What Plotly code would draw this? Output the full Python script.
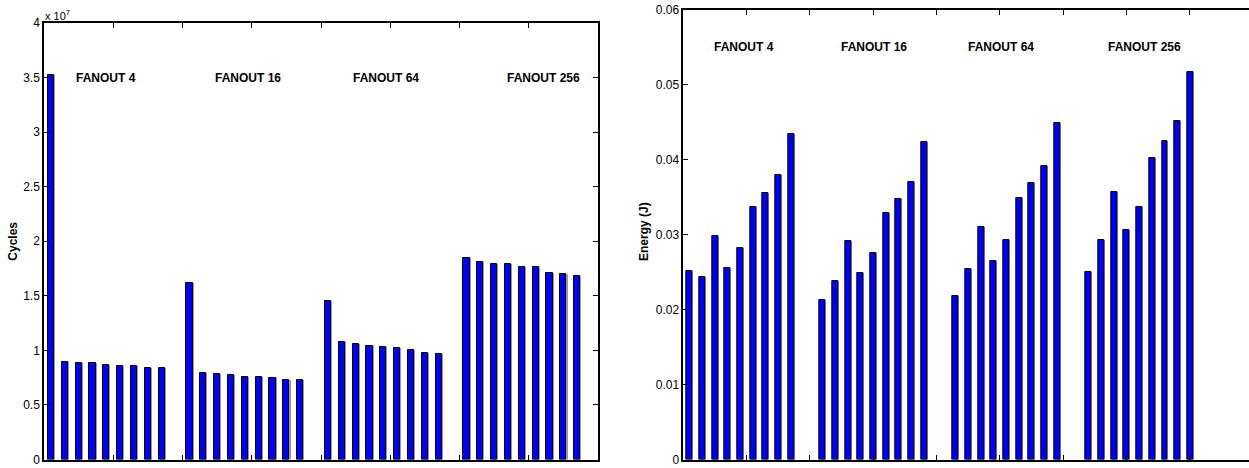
import plotly.graph_objects as go

# ---------------- data ----------------
fanout_labels = ["FANOUT 4", "FANOUT 16", "FANOUT 64", "FANOUT 256"]

# Cycles, in units of 1e7 (9 bars per fanout group)
cycles_e7 = [
    [3.52, 0.893, 0.881, 0.884, 0.865, 0.859, 0.858, 0.841, 0.838],
    [1.621, 0.792, 0.783, 0.777, 0.758, 0.755, 0.746, 0.731, 0.725],
    [1.453, 1.073, 1.061, 1.043, 1.031, 1.021, 1.000, 0.979, 0.969],
    [1.844, 1.813, 1.792, 1.792, 1.768, 1.768, 1.713, 1.700, 1.682],
]

# Energy in J (9 bars per fanout group)
energy_j = [
    [0.02516, 0.0244, 0.0299, 0.02556, 0.02822, 0.03373, 0.03564, 0.03791, 0.04342],
    [0.02133, 0.02387, 0.0292, 0.02489, 0.02756, 0.03293, 0.0348, 0.03702, 0.04236],
    [0.02187, 0.02538, 0.0310, 0.02644, 0.02924, 0.03493, 0.03689, 0.03924, 0.04489],
    [0.02498, 0.02929, 0.03569, 0.03058, 0.03373, 0.04027, 0.04249, 0.04516, 0.05173],
]

cycles_ticks = [0, 0.5, 1, 1.5, 2, 2.5, 3, 3.5, 4]
cycles_ticktext = ["0", "0.5", "1", "1.5", "2", "2.5", "3", "3.5", "4"]
energy_ticks = [0, 0.01, 0.02, 0.03, 0.04, 0.05, 0.06]
energy_ticktext = ["0", "0.01", "0.02", "0.03", "0.04", "0.05", "0.06"]

# ---------------- layout helpers ----------------
W, H = 1249, 468
FONT = "Liberation Sans, Arial, Helvetica, sans-serif"
BLUE = "#0000ff"


def fx(px):
    return px / W


def fy(py):
    return (H - py) / H


def positions(groups, first, period):
    xs, ys = [], []
    for g, vals in enumerate(groups):
        for j, v in enumerate(vals):
            xs.append(first + g * period + j)
            ys.append(v)
    return xs, ys


lx, ly = positions(cycles_e7, 0.5, 10)
rx, ry = positions(energy_j, 0.5, 10.5)

fig = go.Figure()

bar_w = 0.45
# subtle grey shadow at right edge of bars
fig.add_trace(go.Bar(x=[v + 0.075 for v in lx], y=ly, width=bar_w,
                     marker=dict(color="#9a9a9a", line=dict(width=0)),
                     xaxis="x", yaxis="y", showlegend=False, hoverinfo="skip"))
fig.add_trace(go.Bar(x=lx, y=ly, width=bar_w,
                     marker=dict(color=BLUE, line=dict(color="black", width=1)),
                     xaxis="x", yaxis="y", showlegend=False))
fig.add_trace(go.Bar(x=[v + 0.08 for v in rx], y=ry, width=bar_w,
                     marker=dict(color="#9a9a9a", line=dict(width=0)),
                     xaxis="x2", yaxis="y2", showlegend=False, hoverinfo="skip"))
fig.add_trace(go.Bar(x=rx, y=ry, width=bar_w,
                     marker=dict(color=BLUE, line=dict(color="black", width=1)),
                     xaxis="x2", yaxis="y2", showlegend=False))

axis_common = dict(showline=True, linecolor="black", linewidth=1.5,
                   ticks="inside", ticklen=5, tickcolor="black", tickwidth=1,
                   showgrid=False, zeroline=False, automargin=False,
                   tickfont=dict(family=FONT, size=12, color="black"))

slot_r = 12.667  # px per bar slot in the right panel
r_left_px = 683.3
r_xmax = (W - r_left_px) / slot_r

fig.update_layout(
    width=W, height=H,
    margin=dict(l=0, r=0, t=0, b=0, pad=0, autoexpand=False),
    paper_bgcolor="white", plot_bgcolor="white",
    barmode="overlay", bargap=0,
    xaxis=dict(domain=[fx(44), fx(598)], range=[0, 40], tickvals=[5, 10, 15, 20, 25, 30, 35],
               showticklabels=False, mirror="ticks", anchor="y", **axis_common),
    yaxis=dict(domain=[fy(459.5), fy(23)], range=[0, 4], tickvals=cycles_ticks,
               ticktext=cycles_ticktext, mirror="ticks", anchor="x", **axis_common),
    xaxis2=dict(domain=[fx(r_left_px), 1.0], range=[0, r_xmax],
                tickvals=[5, 10, 15, 20, 25, 30, 35, 40],
                showticklabels=False, mirror="ticks", anchor="y2", **axis_common),
    yaxis2=dict(domain=[fy(459.5), fy(10)], range=[0, 0.06], tickvals=energy_ticks,
                ticktext=energy_ticktext, mirror=False, anchor="x2", **axis_common),
)

ann = []
label_font = dict(family=FONT, size=12, color="black")
left_text_x = [2.2, 12.2, 22.2, 33.3]
right_text_x = [2.3, 12.3, 22.3, 33.35]
for name, xl, xr in zip(fanout_labels, left_text_x, right_text_x):
    ann.append(dict(x=xl, y=3.5, xref="x", yref="y", text=f"<b>{name}</b>",
                    showarrow=False, xanchor="left", yanchor="middle", font=label_font))
    ann.append(dict(x=xr, y=0.055, xref="x2", yref="y2", text=f"<b>{name}</b>",
                    showarrow=False, xanchor="left", yanchor="middle", font=label_font))

ann.append(dict(x=fx(12.7), y=fy(241), xref="paper", yref="paper",
                text="<b>Cycles</b>", textangle=-90, showarrow=False,
                xanchor="center", yanchor="middle", font=label_font))
ann.append(dict(x=fx(644), y=fy(232), xref="paper", yref="paper",
                text="<b>Energy (J)</b>", textangle=-90, showarrow=False,
                xanchor="center", yanchor="middle", font=label_font))
ann.append(dict(x=fx(43), y=fy(15), xref="paper", yref="paper",
                text="x 10<sup>7</sup>", showarrow=False,
                xanchor="left", yanchor="middle",
                font=dict(family=FONT, size=11, color="black")))
fig.update_layout(annotations=ann)

fig.write_html("out.html")
